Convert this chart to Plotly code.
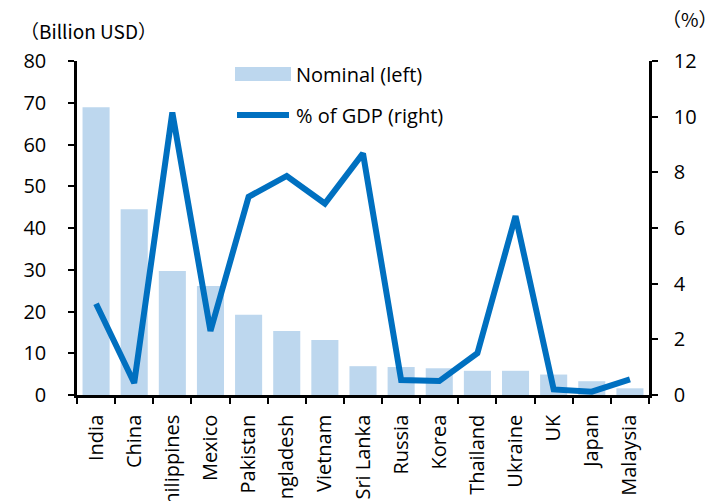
import plotly.graph_objects as go

countries = ["India", "China", "Philippines", "Mexico", "Pakistan", "Bangladesh",
             "Vietnam", "Sri Lanka", "Russia", "Korea", "Thailand", "Ukraine",
             "UK", "Japan", "Malaysia"]
nominal_busd = [68.9, 44.5, 29.7, 26.1, 19.2, 15.3, 13.2, 6.9, 6.7, 6.4, 5.8, 5.8,
                4.9, 3.3, 1.6]
pct_of_gdp = [3.28, 0.43, 10.15, 2.3, 7.12, 7.87, 6.88, 8.68, 0.54, 0.5, 1.5, 6.43,
              0.2, 0.12, 0.56]

left_ticks = [0, 10, 20, 30, 40, 50, 60, 70, 80]
right_ticks = [0, 2, 4, 6, 8, 10, 12]

BAR_COLOR = "#BDD7EE"
LINE_COLOR = "#0070C0"
FONT = "Open Sans"
FSIZE = 20

fig = go.Figure()
fig.add_trace(go.Bar(x=countries, y=nominal_busd, name="Nominal (left)",
                     marker=dict(color=BAR_COLOR, line=dict(width=0)),
                     showlegend=False, yaxis="y"))
fig.add_trace(go.Scatter(x=countries, y=pct_of_gdp, name="% of GDP (right)",
                         mode="lines", line=dict(color=LINE_COLOR, width=6),
                         showlegend=False, yaxis="y2"))

L, R, T, B = 77, 75, 61, 106
W, H = 724, 501
pw, ph = W - L - R, H - T - B


def px(xp):
    return (xp - L) / pw


def py(yp):
    return (H - B - yp) / ph


axis_common = dict(showgrid=False, zeroline=False, showline=True, linecolor="black",
                   linewidth=2.5, ticks="outside", tickcolor="black", tickwidth=2,
                   ticklen=6, automargin=False,
                   tickfont=dict(family=FONT, size=FSIZE, color="black"))

fig.update_layout(
    width=W, height=H,
    margin=dict(l=L, r=R, t=T, b=B),
    plot_bgcolor="white", paper_bgcolor="white",
    bargap=0.29,
    xaxis=dict(axis_common, type="category", tickson="boundaries", tickangle=-90,
               ticklabelstandoff=9),
    yaxis=dict(axis_common, range=[0, 80], tickvals=left_ticks, ticklabelstandoff=18),
    yaxis2=dict(axis_common, range=[0, 12], tickvals=right_ticks, overlaying="y",
                side="right", ticklabelstandoff=12),
    shapes=[
        dict(type="rect", xref="paper", yref="paper",
             x0=px(235), x1=px(291), y0=py(81), y1=py(67),
             fillcolor=BAR_COLOR, line=dict(width=0)),
        dict(type="line", xref="paper", yref="paper",
             x0=px(237), x1=px(289), y0=py(115), y1=py(115),
             line=dict(color=LINE_COLOR, width=6)),
    ],
    annotations=[
        dict(text="Nominal (left)", xref="paper", yref="paper", x=px(294), y=py(74),
             xanchor="left", yanchor="middle", showarrow=False,
             font=dict(family=FONT, size=FSIZE, color="black")),
        dict(text="% of GDP (right)", xref="paper", yref="paper", x=px(294), y=py(115),
             xanchor="left", yanchor="middle", showarrow=False,
             font=dict(family=FONT, size=FSIZE, color="black")),
        dict(text="（Billion USD）", xref="paper", yref="paper", x=px(18), y=py(30),
             xanchor="left", yanchor="middle", showarrow=False,
             font=dict(family="Noto Sans CJK JP", size=19, color="black")),
        dict(text="（%）", xref="paper", yref="paper", x=px(660), y=py(18),
             xanchor="left", yanchor="middle", showarrow=False,
             font=dict(family="Noto Sans CJK JP", size=19, color="black")),
    ],
)

fig.write_html("out.html")
